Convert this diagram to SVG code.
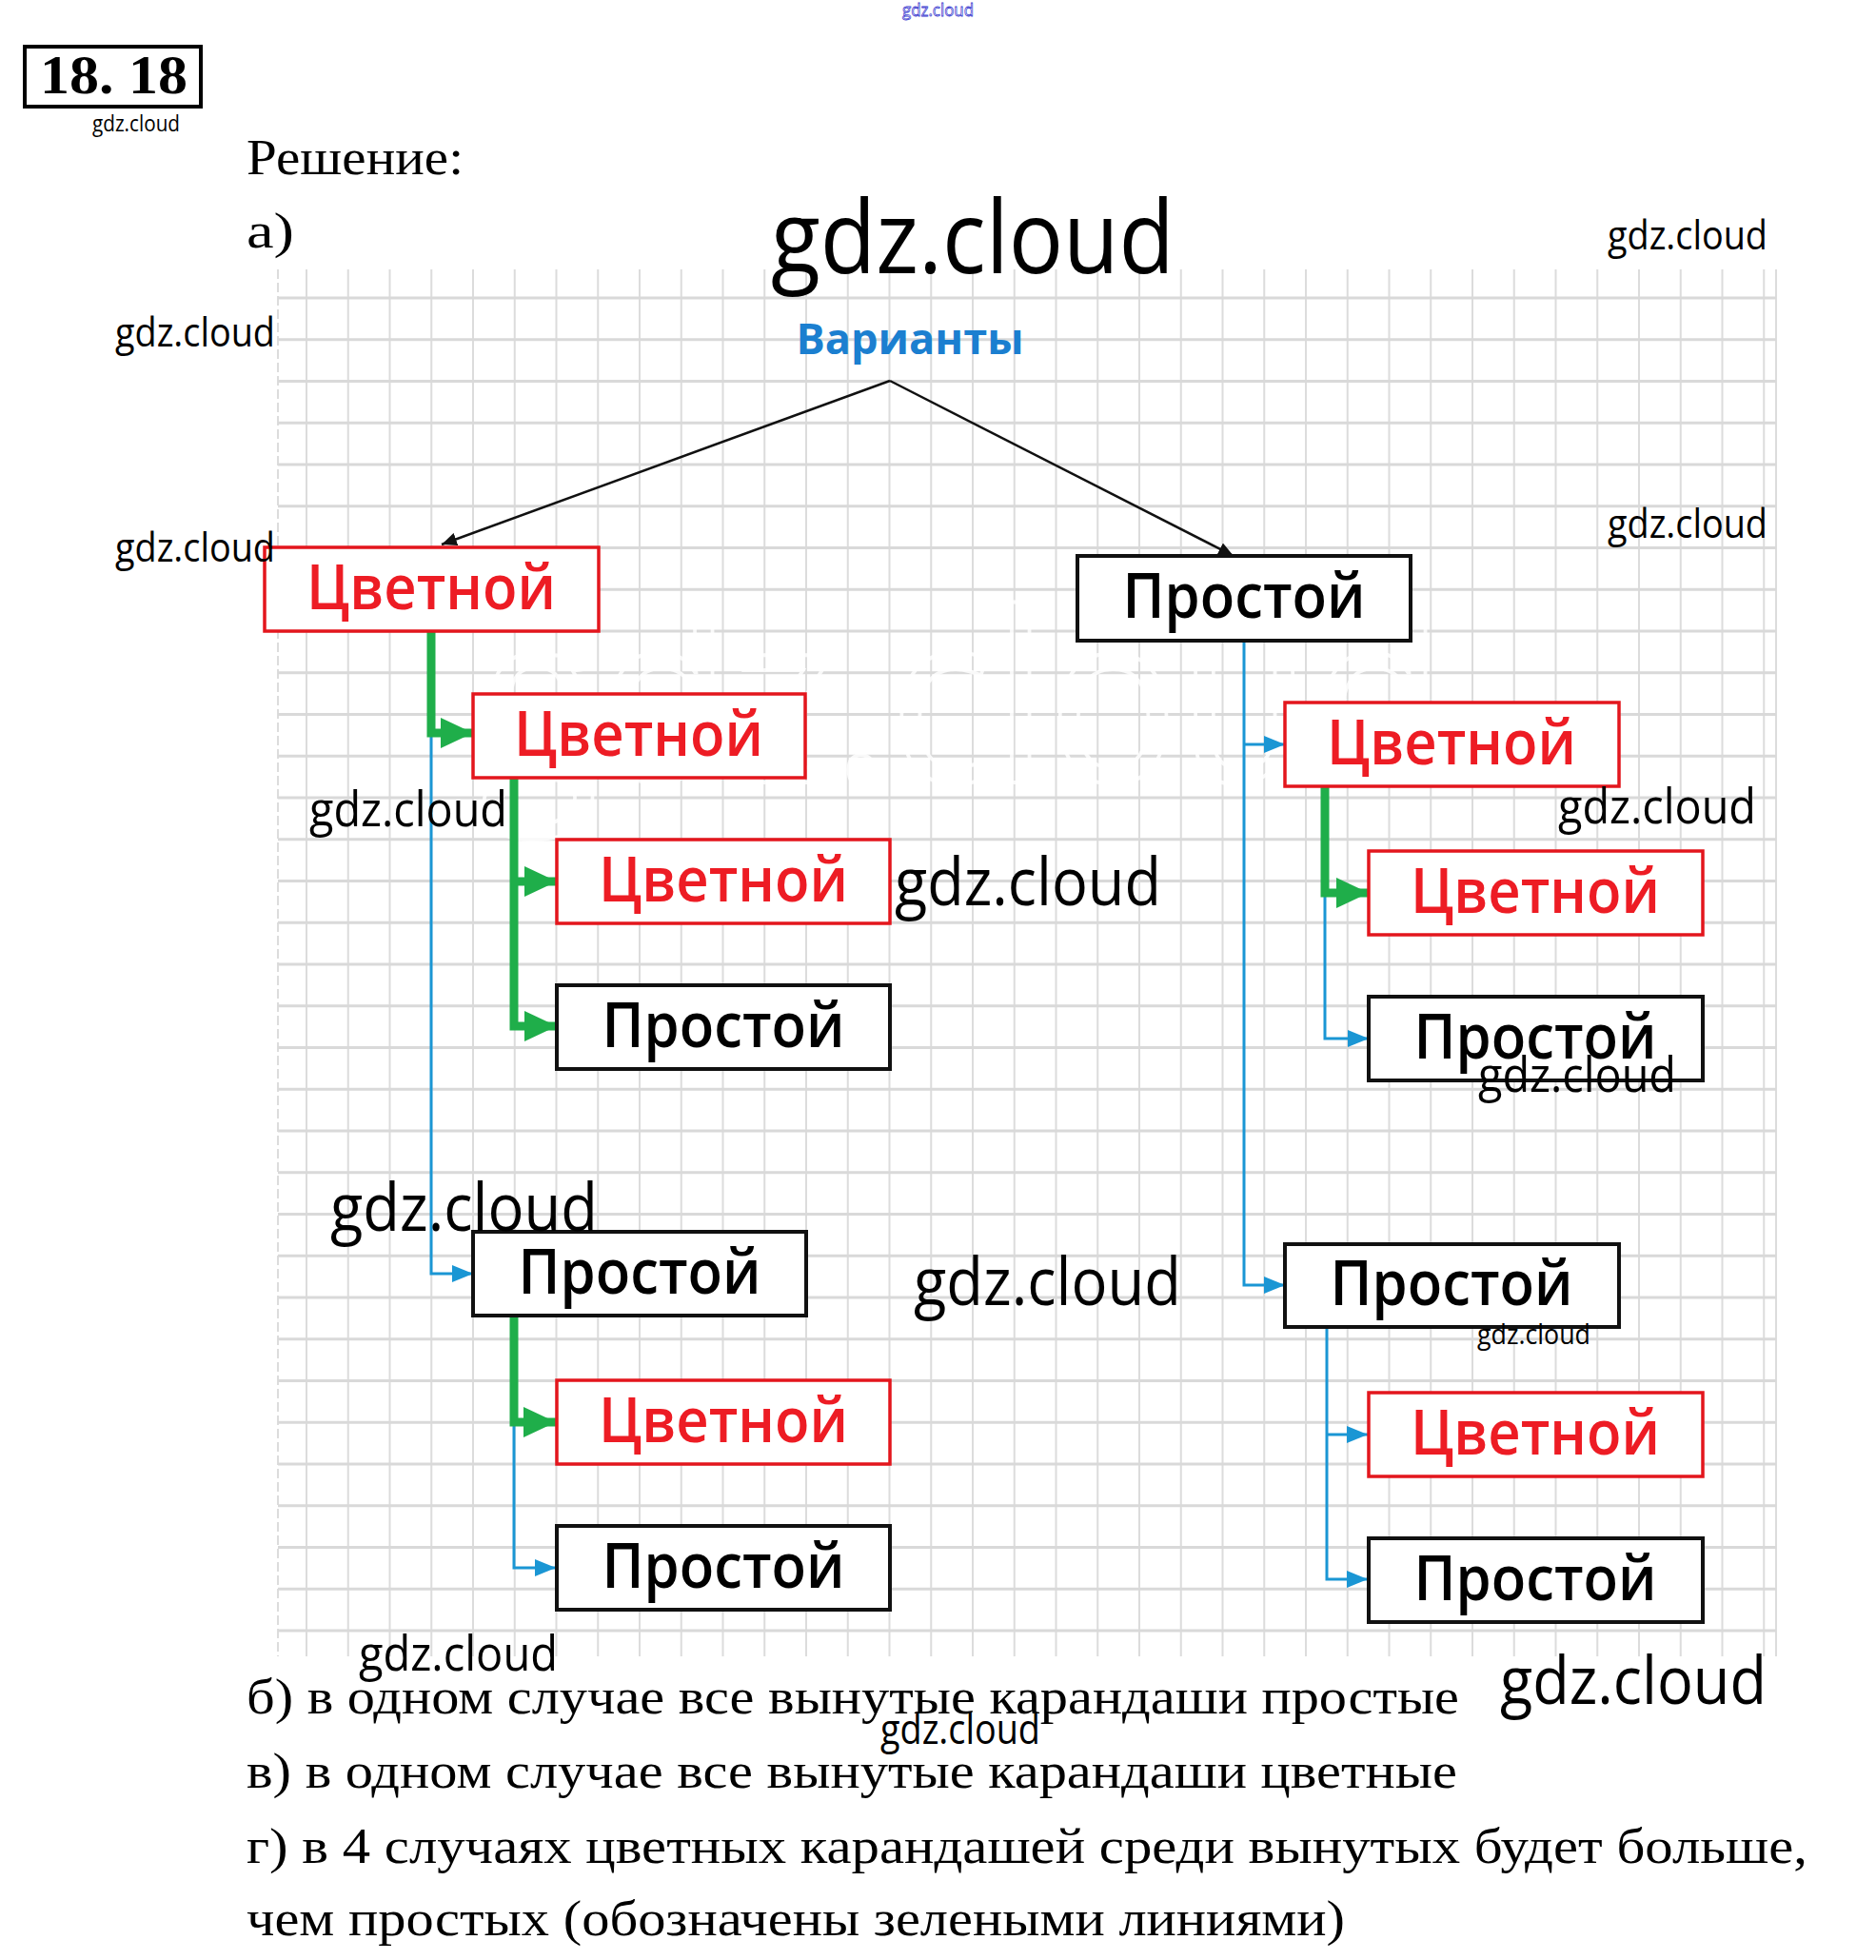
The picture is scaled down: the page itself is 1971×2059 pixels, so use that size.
<svg xmlns="http://www.w3.org/2000/svg" width="1971" height="2059" viewBox="0 0 1971 2059">
<style>
.grid-v{stroke:#dcdcdc;stroke-width:2;fill:none}
.grid-h{stroke:#d9d9d9;stroke-width:3;fill:none}
.box-red rect{fill:#fff;stroke:#e3161d;stroke-width:3.5}
.box-black rect{fill:#fff;stroke:#111;stroke-width:4}
.box-red text{fill:#ed1c24;font-family:"Open Sans","Noto Sans",sans-serif;font-weight:600;font-size:66px;text-anchor:middle}
.box-black text{fill:#000;font-family:"Open Sans","Noto Sans",sans-serif;font-weight:600;font-size:66px;text-anchor:middle}
.wm{fill:#000;font-family:"Open Sans","Noto Sans",sans-serif}
.body{fill:#000;font-family:"Liberation Serif",serif;font-size:52px}
.green{stroke:#1fae4a;stroke-width:9;fill:none;stroke-linejoin:miter}
.blue{stroke:#1a96d4;stroke-width:3;fill:none}
.black{stroke:#111;stroke-width:2.5;fill:none}
</style>
<defs>
<marker id="ah-black" markerUnits="userSpaceOnUse" markerWidth="16" markerHeight="14" refX="16" refY="7" orient="auto"><path d="M0,0 L16,7 L0,14 z" fill="#111"/></marker>
<marker id="ah-green" markerUnits="userSpaceOnUse" markerWidth="34" markerHeight="32" refX="34" refY="16" orient="auto"><path d="M0,0 L34,16 L0,32 z" fill="#1fae4a"/></marker>
<marker id="ah-blue" markerUnits="userSpaceOnUse" markerWidth="22" markerHeight="18" refX="22" refY="9" orient="auto"><path d="M0,0 L22,9 L0,18 z" fill="#1a96d4"/></marker>
</defs>
<rect x="0" y="0" width="1971" height="2059" fill="#fff"/>

<g id="grid">
<path class="grid-v" d="M322 283V1740M365.75 283V1740M409.5 283V1740M453.25 283V1740M497 283V1740M540.75 283V1740M584.5 283V1740M628.25 283V1740M672 283V1740M715.75 283V1740M759.5 283V1740M803.25 283V1740M847 283V1740M890.75 283V1740M934.5 283V1740M978.25 283V1740M1022 283V1740M1065.75 283V1740M1109.5 283V1740M1153.25 283V1740M1197 283V1740M1240.75 283V1740M1284.5 283V1740M1328.25 283V1740M1372 283V1740M1415.75 283V1740M1459.5 283V1740M1503.25 283V1740M1547 283V1740M1590.75 283V1740M1634.5 283V1740M1678.25 283V1740M1722 283V1740M1765.75 283V1740M1809.5 283V1740M1853.25 283V1740M1866 283V1740"/>
<path class="grid-v" stroke-dasharray="10 4" d="M292 283V1740"/>
<path class="grid-h" d="M292 313H1866M292 356.75H1866M292 400.5H1866M292 444.25H1866M292 488H1866M292 531.75H1866M292 575.5H1866M292 619.25H1866M292 663H1866M292 706.75H1866M292 750.5H1866M292 794.25H1866M292 838H1866M292 881.75H1866M292 925.5H1866M292 969.25H1866M292 1013H1866M292 1056.75H1866M292 1100.5H1866M292 1144.25H1866M292 1188H1866M292 1231.75H1866M292 1275.5H1866M292 1319.25H1866M292 1363H1866M292 1406.75H1866M292 1450.5H1866M292 1494.25H1866M292 1538H1866M292 1581.75H1866M292 1625.5H1866M292 1669.25H1866M292 1713H1866"/>
</g>

<g id="white-watermark">
<text x="505" y="822" font-family="Open Sans, sans-serif" font-size="250" fill="none" stroke="#fff" stroke-width="4" opacity="0.85" textLength="1012" lengthAdjust="spacingAndGlyphs">gdz.cloud</text>
</g>

<g id="header">
<text x="948" y="17" font-family="Open Sans, sans-serif" font-size="19" fill="#fff" stroke="#3a3ad0" stroke-width="0.8" textLength="75" lengthAdjust="spacingAndGlyphs">gdz.cloud</text>
<rect x="26" y="49" width="185" height="63" fill="none" stroke="#000" stroke-width="4"/>
<text x="42" y="98" font-family="Liberation Serif, serif" font-weight="bold" font-size="56" textLength="155" lengthAdjust="spacingAndGlyphs">18. 18</text>
<text class="wm" x="97" y="138" font-size="23" textLength="92" lengthAdjust="spacingAndGlyphs">gdz.cloud</text>
<text class="body" x="259" y="183" font-size="56" textLength="228" lengthAdjust="spacingAndGlyphs">Решение:</text>
<text class="body" x="259" y="260" font-size="56" textLength="50" lengthAdjust="spacingAndGlyphs">а)</text>
</g>

<g id="connectors">
<path class="black" d="M935 400 L464 572" marker-end="url(#ah-black)"/>
<path class="black" d="M935 400 L1296 584" marker-end="url(#ah-black)"/>
<path class="blue" d="M453 663 V1338 H497" marker-end="url(#ah-blue)"/>
<path class="green" d="M453 663 V770 H497" marker-end="url(#ah-green)"/>
<path class="green" d="M540 817 V1078 H585" marker-end="url(#ah-green)"/>
<path class="green" d="M540 926 H585" marker-end="url(#ah-green)"/>
<path class="blue" d="M540 1382 V1647 H584" marker-end="url(#ah-blue)"/>
<path class="green" d="M540 1382 V1494 H584" marker-end="url(#ah-green)"/>
<path class="blue" d="M1307 673 V1350 H1350" marker-end="url(#ah-blue)"/>
<path class="blue" d="M1307 782 H1350" marker-end="url(#ah-blue)"/>
<path class="blue" d="M1392 826 V1091 H1438" marker-end="url(#ah-blue)"/>
<path class="green" d="M1392 826 V938 H1438" marker-end="url(#ah-green)"/>
<path class="blue" d="M1394 1394 V1659 H1437" marker-end="url(#ah-blue)"/>
<path class="blue" d="M1394 1507 H1437" marker-end="url(#ah-blue)"/>
</g>

<g id="root">
<text x="956" y="372" font-family="Open Sans, sans-serif" font-weight="bold" font-size="44" fill="#1b7fd0" text-anchor="middle" textLength="239" lengthAdjust="spacingAndGlyphs">Варианты</text>
</g>

<g id="n1-color" class="box-red"><rect x="278" y="575" width="351" height="88"/><text x="453" y="640" textLength="262" lengthAdjust="spacingAndGlyphs">Цветной</text></g>
<g id="n1-plain" class="box-black"><rect x="1132" y="584" width="350" height="89"/><text x="1307" y="649" textLength="255" lengthAdjust="spacingAndGlyphs">Простой</text></g>

<g id="n2-cc" class="box-red"><rect x="497" y="729" width="349" height="88"/><text x="671" y="794" textLength="262" lengthAdjust="spacingAndGlyphs">Цветной</text></g>
<g id="n3-ccc" class="box-red"><rect x="585" y="882" width="350" height="88"/><text x="760" y="947" textLength="262" lengthAdjust="spacingAndGlyphs">Цветной</text></g>
<g id="n3-ccp" class="box-black"><rect x="585" y="1035" width="350" height="88"/><text x="760" y="1100" textLength="255" lengthAdjust="spacingAndGlyphs">Простой</text></g>
<g id="n2-cp" class="box-black"><rect x="497" y="1294" width="350" height="88"/><text x="672" y="1359" textLength="255" lengthAdjust="spacingAndGlyphs">Простой</text></g>
<g id="n3-cpc" class="box-red"><rect x="585" y="1450" width="350" height="88"/><text x="760" y="1515" textLength="262" lengthAdjust="spacingAndGlyphs">Цветной</text></g>
<g id="n3-cpp" class="box-black"><rect x="585" y="1603" width="350" height="88"/><text x="760" y="1668" textLength="255" lengthAdjust="spacingAndGlyphs">Простой</text></g>

<g id="n2-pc" class="box-red"><rect x="1350" y="738" width="351" height="88"/><text x="1525" y="803" textLength="262" lengthAdjust="spacingAndGlyphs">Цветной</text></g>
<g id="n3-pcc" class="box-red"><rect x="1438" y="894" width="351" height="88"/><text x="1613" y="959" textLength="262" lengthAdjust="spacingAndGlyphs">Цветной</text></g>
<g id="n3-pcp" class="box-black"><rect x="1438" y="1047" width="351" height="88"/><text x="1613" y="1112" textLength="255" lengthAdjust="spacingAndGlyphs">Простой</text></g>
<g id="n2-pp" class="box-black"><rect x="1350" y="1307" width="351" height="87"/><text x="1525" y="1371" textLength="255" lengthAdjust="spacingAndGlyphs">Простой</text></g>
<g id="n3-ppc" class="box-red"><rect x="1438" y="1463" width="351" height="88"/><text x="1613" y="1528" textLength="262" lengthAdjust="spacingAndGlyphs">Цветной</text></g>
<g id="n3-ppp" class="box-black"><rect x="1438" y="1616" width="351" height="88"/><text x="1613" y="1681" textLength="255" lengthAdjust="spacingAndGlyphs">Простой</text></g>

<g id="watermarks">
<text class="wm" x="810" y="287" font-size="106" textLength="424" lengthAdjust="spacingAndGlyphs">gdz.cloud</text>
<text class="wm" x="1689" y="262" font-size="42" textLength="168" lengthAdjust="spacingAndGlyphs">gdz.cloud</text>
<text class="wm" x="121" y="364" font-size="42" textLength="168" lengthAdjust="spacingAndGlyphs">gdz.cloud</text>
<text class="wm" x="121" y="590" font-size="42" textLength="168" lengthAdjust="spacingAndGlyphs">gdz.cloud</text>
<text class="wm" x="1689" y="565" font-size="42" textLength="168" lengthAdjust="spacingAndGlyphs">gdz.cloud</text>
<text class="wm" x="325" y="868" font-size="52" textLength="208" lengthAdjust="spacingAndGlyphs">gdz.cloud</text>
<text class="wm" x="940" y="951" font-size="70" textLength="280" lengthAdjust="spacingAndGlyphs">gdz.cloud</text>
<text class="wm" x="1637" y="865" font-size="52" textLength="208" lengthAdjust="spacingAndGlyphs">gdz.cloud</text>
<text class="wm" x="1553" y="1147" font-size="52" textLength="208" lengthAdjust="spacingAndGlyphs">gdz.cloud</text>
<text class="wm" x="347" y="1293" font-size="70" textLength="281" lengthAdjust="spacingAndGlyphs">gdz.cloud</text>
<text class="wm" x="960" y="1371" font-size="70" textLength="281" lengthAdjust="spacingAndGlyphs">gdz.cloud</text>
<text class="wm" x="1552" y="1412" font-size="30" textLength="119" lengthAdjust="spacingAndGlyphs">gdz.cloud</text>
<text class="wm" x="377" y="1755" font-size="52" textLength="209" lengthAdjust="spacingAndGlyphs">gdz.cloud</text>
<text class="wm" x="1576" y="1790" font-size="70" textLength="280" lengthAdjust="spacingAndGlyphs">gdz.cloud</text>
<text class="wm" x="925" y="1832" font-size="43" textLength="168" lengthAdjust="spacingAndGlyphs">gdz.cloud</text>
</g>

<g id="answers">
<text class="body" x="259" y="1800" textLength="1274" lengthAdjust="spacingAndGlyphs">б) в одном случае все вынутые карандаши простые</text>
<text class="body" x="259" y="1878" textLength="1272" lengthAdjust="spacingAndGlyphs">в) в одном случае все вынутые карандаши цветные</text>
<text class="body" x="259" y="1957" textLength="1640" lengthAdjust="spacingAndGlyphs">г) в 4 случаях цветных карандашей среди вынутых будет больше,</text>
<text class="body" x="259" y="2033" textLength="1154" lengthAdjust="spacingAndGlyphs">чем простых (обозначены зелеными линиями)</text>
</g>
</svg>
